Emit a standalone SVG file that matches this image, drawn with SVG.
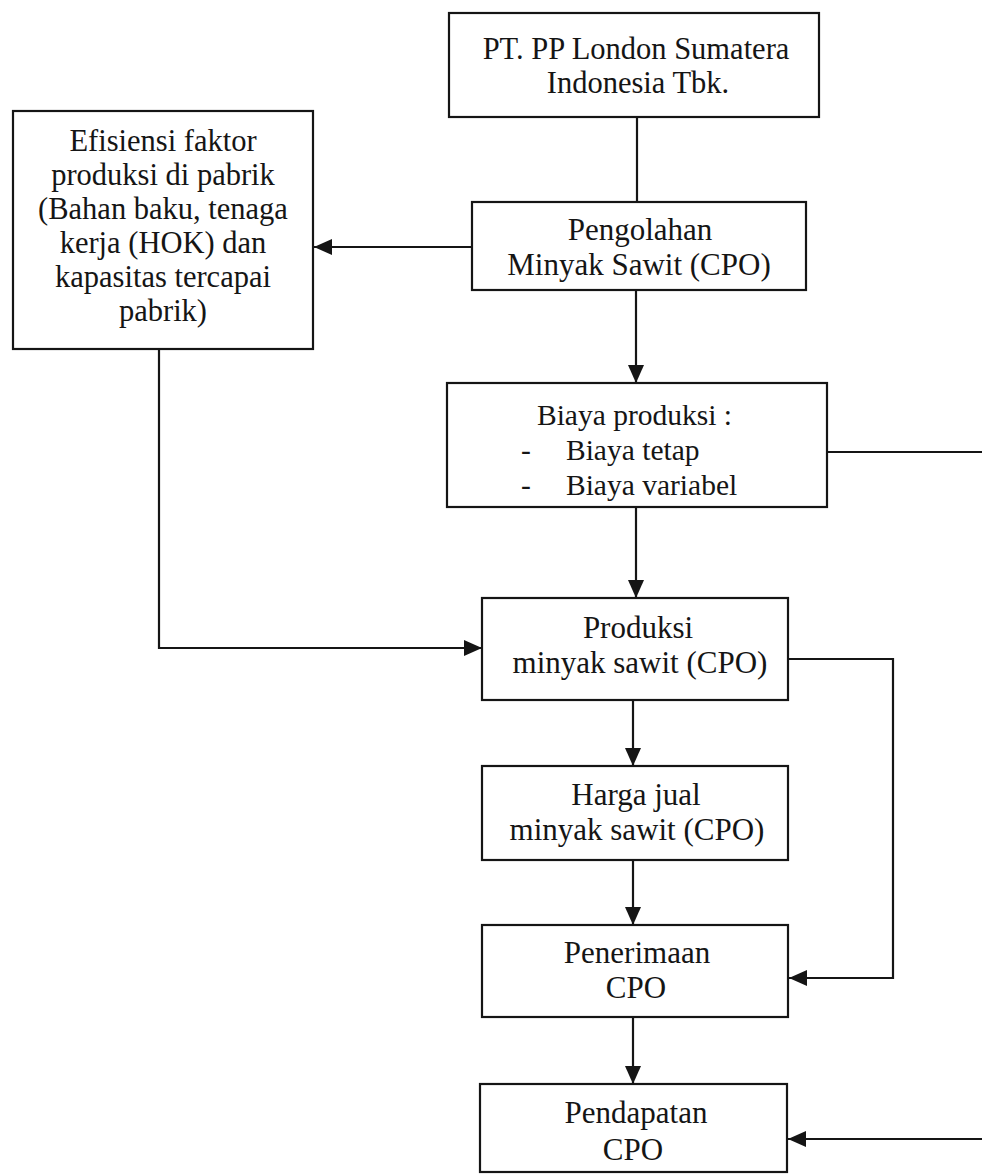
<svg xmlns="http://www.w3.org/2000/svg" width="982" height="1175" viewBox="0 0 982 1175">
<defs>
<style>
.box{fill:#fff;stroke:#151515;stroke-width:2.2}
.t{font-family:"Liberation Serif","Times New Roman",serif;font-size:30.5px;fill:#151515;text-anchor:middle}
.tb{font-size:31px}
.tl{font-family:"Liberation Serif","Times New Roman",serif;font-size:29.5px;fill:#151515}
.c{fill:none;stroke:#151515;stroke-width:2.2}
</style>
<marker id="ah" viewBox="0 0 18 16" refX="18" refY="8" markerWidth="18" markerHeight="16" markerUnits="userSpaceOnUse" orient="auto">
<path d="M0,0 L18,8 L0,16 Z" fill="#151515"/>
</marker>
</defs>
<rect width="982" height="1175" fill="#fff"/>
<g id="connectors">
<path class="c" d="M637,117 V202"/>
<path class="c" d="M472,247 H314" marker-end="url(#ah)"/>
<path class="c" d="M636,290 V383" marker-end="url(#ah)"/>
<path class="c" d="M827,452 H990 V1139 H788" marker-end="url(#ah)"/>
<path class="c" d="M159,349 V648 H482" marker-end="url(#ah)"/>
<path class="c" d="M636,507 V598" marker-end="url(#ah)"/>
<path class="c" d="M633,700 V766" marker-end="url(#ah)"/>
<path class="c" d="M788,659 H893 V978 H789" marker-end="url(#ah)"/>
<path class="c" d="M633,860 V925" marker-end="url(#ah)"/>
<path class="c" d="M633,1017 V1084" marker-end="url(#ah)"/>
</g>
<g id="node-pt">
<rect class="box" x="449" y="13" width="370" height="104"/>
<text class="t" x="636" y="59">PT. PP London Sumatera</text>
<text class="t" x="638" y="93">Indonesia Tbk.</text>
</g>
<g id="node-efisiensi">
<rect class="box" x="13" y="111" width="300" height="238"/>
<text class="t" x="163" y="151">Efisiensi faktor</text>
<text class="t" x="163" y="185">produksi di pabrik</text>
<text class="t" x="163" y="219">(Bahan baku, tenaga</text>
<text class="t" x="163" y="253">kerja (HOK) dan</text>
<text class="t" x="163" y="287">kapasitas tercapai</text>
<text class="t" x="163" y="321">pabrik)</text>
</g>
<g id="node-pengolahan">
<rect class="box" x="472" y="202" width="334" height="88"/>
<text class="t tb" x="640" y="240">Pengolahan</text>
<text class="t tb" x="639" y="275">Minyak Sawit (CPO)</text>
</g>
<g id="node-biaya">
<rect class="box" x="447" y="383" width="380" height="124"/>
<text class="tl" x="537" y="425">Biaya produksi :</text>
<text class="tl" x="521" y="460">-</text>
<text class="tl" x="566" y="460">Biaya tetap</text>
<text class="tl" x="521" y="495">-</text>
<text class="tl" x="566" y="495">Biaya variabel</text>
</g>
<g id="node-produksi">
<rect class="box" x="482" y="598" width="306" height="102"/>
<text class="t tb" x="638" y="638">Produksi</text>
<text class="t tb" x="640" y="673">minyak sawit (CPO)</text>
</g>
<g id="node-harga">
<rect class="box" x="482" y="766" width="306" height="94"/>
<text class="t tb" x="636" y="805">Harga jual</text>
<text class="t tb" x="637" y="840">minyak sawit (CPO)</text>
</g>
<g id="node-penerimaan">
<rect class="box" x="482" y="925" width="306" height="92"/>
<text class="t tb" x="637" y="963">Penerimaan</text>
<text class="t tb" x="636" y="998">CPO</text>
</g>
<g id="node-pendapatan">
<rect class="box" x="480" y="1084" width="307" height="88"/>
<text class="t tb" x="636" y="1123">Pendapatan</text>
<text class="t tb" x="633" y="1160">CPO</text>
</g>
</svg>
